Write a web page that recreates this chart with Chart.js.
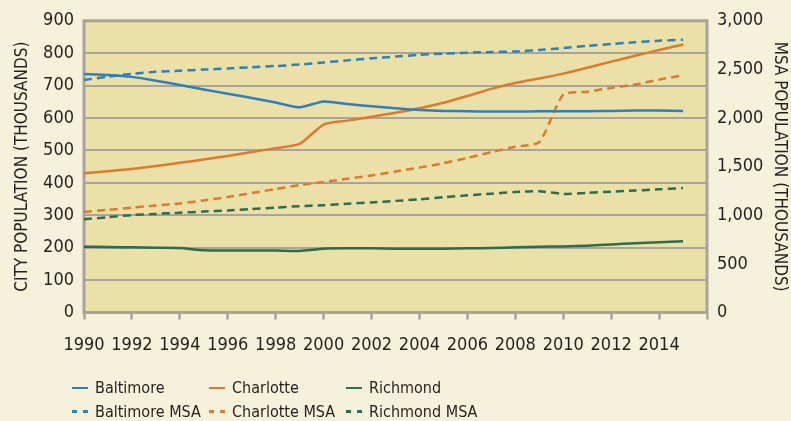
<!DOCTYPE html>
<html>
<head>
<meta charset="utf-8">
<script src="https://cdn.jsdelivr.net/npm/chart.js@4/dist/chart.umd.min.js"></script>
<style>
  html, body { margin: 0; padding: 0; background: #f6f1da; }
  #wrap { position: relative; width: 791px; height: 421px; background: #f6f1da; overflow: hidden; }
  #legend { position: absolute; left: 72px; top: 376px; font-family: "Liberation Sans Narrow", "DejaVu Sans Condensed", Roboto, sans-serif; font-size: 16px; color: #231f20; }
  .lg-row { display: flex; height: 23.5px; align-items: center; }
  .lg-item { width: 137px; display: flex; align-items: center; white-space: nowrap; }
  .lg-swatch { width: 16px; height: 2.5px; margin-right: 7px; flex: none; }
</style>
</head>
<body>
<div id="wrap">
  <canvas id="chart" width="791" height="421"></canvas>
  <div id="legend"></div>
</div>
<script>
/* City vs MSA population, 1990–2015 */

// ─── Data ─────────────────────────────────────────────────────────────────────

const years = [1990, 1991, 1992, 1993, 1994, 1995, 1996, 1997, 1998, 1999, 2000, 2001, 2002,
  2003, 2004, 2005, 2006, 2007, 2008, 2009, 2010, 2011, 2012, 2013, 2014, 2015];

// city populations (thousands, left axis)
const baltimore = [736, 733, 727, 715, 702, 688, 675, 662, 648, 633, 651, 643, 636, 630, 625, 622,
  621, 620, 620, 621, 621, 621, 622, 623, 623, 622];
const charlotte = [430, 436, 443, 452, 462, 472, 483, 495, 507, 520, 580, 592, 604, 616, 630, 647,
  668, 690, 708, 722, 737, 755, 774, 792, 810, 827];
const richmond = [203, 202, 201, 200, 199, 192, 191, 191, 191, 190, 197, 198, 198, 197, 197, 197,
  198, 199, 201, 203, 204, 206, 210, 214, 217, 220];

// metro populations (thousands, right axis)
const baltimoreMsa = [2392, 2425, 2455, 2475, 2487, 2498, 2510, 2522, 2535, 2550, 2572, 2593, 2614,
  2632, 2650, 2662, 2672, 2679, 2685, 2700, 2720, 2742, 2761, 2780, 2795, 2805];
const charlotteMsa = [1034, 1056, 1079, 1100, 1122, 1153, 1188, 1228, 1270, 1310, 1342, 1376, 1410,
  1450, 1490, 1535, 1590, 1650, 1705, 1752, 2240, 2270, 2310, 2345, 2395, 2440];
const richmondMsa = [959, 980, 1002, 1014, 1026, 1038, 1049, 1064, 1079, 1094, 1104, 1118, 1132,
  1148, 1164, 1185, 1205, 1222, 1239, 1246, 1220, 1230, 1243, 1255, 1267, 1280];

const seriesNames = ['Baltimore', 'Charlotte', 'Richmond', 'Baltimore MSA', 'Charlotte MSA', 'Richmond MSA'];
const seriesData = [baltimore, charlotte, richmond, baltimoreMsa, charlotteMsa, richmondMsa];

const leftTicks = [0, 100, 200, 300, 400, 500, 600, 700, 800, 900];
const rightTicks = [0, 500, 1000, 1500, 2000, 2500, 3000];
const xTicks = [1990, 1992, 1994, 1996, 1998, 2000, 2002, 2004, 2006, 2008, 2010, 2012, 2014, 2016];

// ─── Style ────────────────────────────────────────────────────────────────────

const COLORS = ['#2f7fb9', '#dc7b2d', '#2c6d4e'];
const PLOT_BG = '#ebe1a8';
const GRID = '#a7a49b';
const TEXT = '#231f20';
const FONT = '"Liberation Sans Narrow", "DejaVu Sans Condensed", Roboto, sans-serif';

function toPoints(values) {
  return years.map((yr, i) => ({ x: yr, y: values[i] }));
}

const datasets = seriesData.map((values, i) => {
  const isMsa = i >= 3;
  return {
    label: seriesNames[i],
    data: toPoints(values),
    yAxisID: isMsa ? 'y1' : 'y',
    borderColor: COLORS[i % 3],
    borderWidth: 2.5,
    borderDash: isMsa ? [8, 5] : [],
    pointRadius: 0,
    tension: 0.2,
    fill: false,
  };
});

// plot background + frame
const plotFrame = {
  id: 'plotFrame',
  beforeDraw(chart) {
    const { ctx, chartArea: a } = chart;
    ctx.save();
    ctx.fillStyle = PLOT_BG;
    ctx.fillRect(a.left, a.top, a.right - a.left, a.bottom - a.top);
    ctx.restore();
  },
  beforeDatasetsDraw(chart) {
    const { ctx, chartArea: a } = chart;
    ctx.save();
    ctx.strokeStyle = GRID;
    ctx.lineWidth = 3;
    ctx.strokeRect(a.left, a.top, a.right - a.left, a.bottom - a.top);
    ctx.restore();
  },
};

// ─── Chart ────────────────────────────────────────────────────────────────────

new Chart(document.getElementById('chart'), {
  type: 'line',
  data: { datasets },
  plugins: [plotFrame],
  options: {
    responsive: false,
    animation: false,
    layout: { padding: { top: 20, left: 0, right: 0, bottom: 58.5 } },
    plugins: { legend: { display: false }, tooltip: { enabled: false } },
    scales: {
      x: {
        type: 'linear',
        min: years[0],
        max: xTicks[xTicks.length - 1],
        afterFit: (s) => { s.height = 50; },
        afterBuildTicks: (s) => { s.ticks = xTicks.map((v) => ({ value: v })); },
        ticks: {
          color: TEXT,
          font: { family: FONT, size: 18 },
          padding: 15,
          maxRotation: 0,
          autoSkip: false,
          callback: (v) => (v === 2016 ? '' : String(v)),
        },
        grid: { drawOnChartArea: false, drawTicks: true, tickLength: 7, tickColor: GRID, tickWidth: 2.5 },
        border: { display: false },
      },
      y: {
        position: 'left',
        min: 0,
        max: 900,
        afterFit: (s) => { s.width = 84; },
        afterBuildTicks: (s) => { s.ticks = leftTicks.map((v) => ({ value: v })); },
        ticks: { color: TEXT, font: { family: FONT, size: 18 }, padding: 10 },
        grid: { color: GRID, lineWidth: 2, drawTicks: false },
        border: { display: false },
        title: {
          display: true,
          text: 'CITY POPULATION (THOUSANDS)',
          color: TEXT,
          font: { family: FONT, size: 17 },
          padding: { top: 12, bottom: 0 },
        },
      },
      y1: {
        position: 'right',
        min: 0,
        max: 3000,
        afterFit: (s) => { s.width = 84; },
        afterBuildTicks: (s) => { s.ticks = rightTicks.map((v) => ({ value: v })); },
        ticks: {
          color: TEXT,
          font: { family: FONT, size: 18 },
          padding: 10,
          callback: (v) => v.toLocaleString('en-US'),
        },
        grid: { drawOnChartArea: false, drawTicks: false },
        border: { display: false },
        title: {
          display: true,
          text: 'MSA POPULATION (THOUSANDS)',
          color: TEXT,
          font: { family: FONT, size: 17 },
          padding: { top: 1, bottom: 0 },
        },
      },
    },
  },
});

// ─── Legend (3 columns x 2 rows) ──────────────────────────────────────────────

function swatchStyle(color, dashed) {
  if (!dashed) return `background:${color}`;
  return `background:repeating-linear-gradient(to right, ${color} 0 5px, transparent 5px 11px)`;
}

const legend = document.getElementById('legend');
for (let row = 0; row < 2; row++) {
  const rowEl = document.createElement('div');
  rowEl.className = 'lg-row';
  for (let col = 0; col < 3; col++) {
    const i = row * 3 + col;
    const item = document.createElement('div');
    item.className = 'lg-item';
    item.innerHTML = `<span class="lg-swatch" style="${swatchStyle(COLORS[col], row === 1)}"></span><span>${seriesNames[i]}</span>`;
    rowEl.appendChild(item);
  }
  legend.appendChild(rowEl);
}
</script>
</body>
</html>
